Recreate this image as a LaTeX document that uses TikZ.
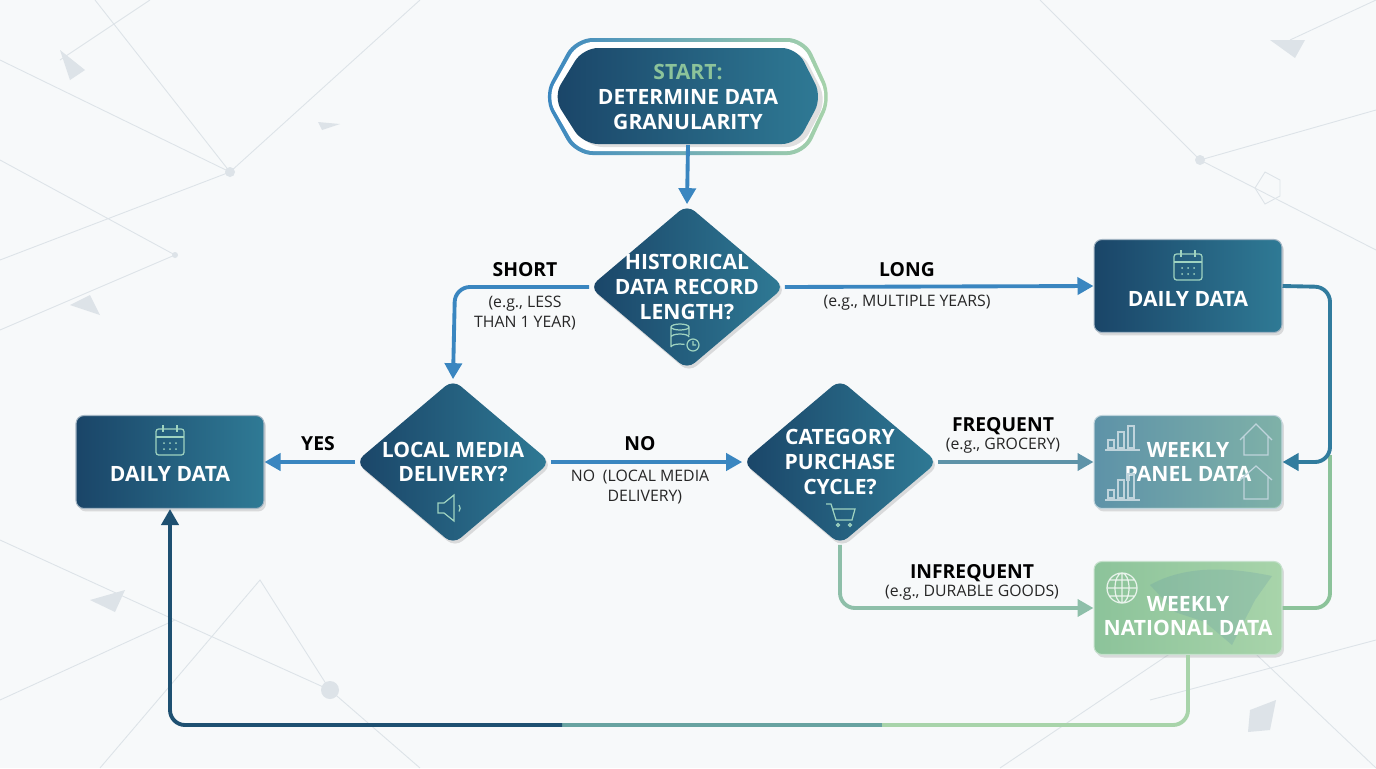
\documentclass[tikz,border=0pt]{standalone}
\usepackage{fontspec}
\setmainfont{Open Sans}
\usetikzlibrary{shapes.geometric,arrows.meta,shadows}
\definecolor{navy}{HTML}{1A4568}
\definecolor{teal}{HTML}{2F7A95}
\definecolor{arr}{HTML}{3A86C0}
\definecolor{lgreen}{HTML}{A8D4AA}
\definecolor{mgreen}{HTML}{8CC39A}
\definecolor{pblue}{HTML}{5E93A8}
\definecolor{pgreen}{HTML}{8EBFA9}
\definecolor{bgl}{HTML}{DDE3E8}
\definecolor{bg}{HTML}{F7F9FA}
\definecolor{icon}{HTML}{9FD3C0}
\begin{document}
\begin{tikzpicture}[x=0.02cm,y=-0.02cm,
  box/.style={rectangle,rounded corners=0.16cm,minimum width=3.76cm,minimum height=1.86cm,draw=white!60!navy,line width=0.6pt,drop shadow={opacity=0.25,shadow xshift=0.04cm,shadow yshift=-0.06cm}},
  dia/.style={diamond,rounded corners=0.2cm,minimum width=3.9cm,minimum height=3.3cm,inner sep=0pt,left color=navy,right color=teal,drop shadow={opacity=0.25,shadow xshift=0.04cm,shadow yshift=-0.06cm}},
  wt/.style={text=white,font=\bfseries\fontsize{12}{14}\selectfont,align=center},
  lab/.style={font=\bfseries\fontsize{11}{13}\selectfont,text=black},
  sm/.style={font=\fontsize{9}{11}\selectfont,text=black!85,align=center},
  con/.style={line width=2.2pt,rounded corners=0.3cm},
  tip/.style={-{Triangle[length=0.32cm,width=0.34cm]}},
  ic/.style={draw=icon,line width=0.7pt}]
\useasboundingbox (0,0) rectangle (1376,768);
\fill[bg] (0,0) rectangle (1376,768);
% background net
\begin{scope}[bgl,line width=0.5pt]
\draw (0,60)--(230,172)--(95,0) (230,172)--(0,260) (230,172)--(420,0) (0,160)--(175,255)--(0,330) (60,60)--(150,0);
\draw (1040,0)--(1200,160)--(1376,110) (1200,160)--(1100,60) (1200,160)--(1376,250) (1290,40)--(1376,0);
\draw (0,540)--(175,620)--(330,690)--(420,768) (100,768)--(260,580)--(330,690) (0,700)--(175,620);
\draw (1150,700)--(1376,640) (1220,620)--(1376,768) (1000,768)--(1220,620);
\fill (230,172) circle (5) (175,255) circle (3) (330,690) circle (9) (1200,160) circle (5);
\fill (60,50)--(85,70)--(70,80)--cycle (1270,40)--(1305,40)--(1295,58)--cycle (90,295)--(100,315)--(70,305)--cycle (1250,710)--(1276,700)--(1270,730)--(1248,732)--cycle (90,600)--(125,590)--(115,612)--cycle (318,122)--(340,124)--(322,130)--cycle;
\draw (1265,172)--(1280,180)--(1280,196)--(1265,204)--(1255,188)--cycle;
\end{scope}
% start
\node[minimum width=5.8cm,minimum height=1.9cm] (start) at (688,97) {};
\shade[rounded corners=0.35cm,left color=arr,right color=lgreen] (543,97)--(575,38)--(805,38)--(832,97)--(805,155)--(575,155)--cycle;
\fill[white,rounded corners=0.3cm] (547,97)--(578,42)--(802,42)--(828,97)--(802,151)--(578,151)--cycle;
\shade[left color=navy,right color=teal,rounded corners=0.3cm,drop shadow={opacity=0.25,shadow yshift=-0.06cm}] (553,97)--(583,48)--(797,48)--(822,97)--(797,144)--(583,144)--cycle;
\node[wt] at (688,97) {\textcolor{mgreen}{START:}\\DETERMINE DATA\\GRANULARITY};
% diamonds
\node[dia] (d1) at (687,287) {};
\node[wt] at (687,287) {HISTORICAL\\DATA RECORD\\LENGTH?};
\node[dia] (d2) at (453,462) {};
\node[wt] at (453,462) {LOCAL MEDIA\\DELIVERY?};
\node[dia] (d3) at (840,462) {};
\node[wt] at (840,462) {CATEGORY\\PURCHASE\\CYCLE?};
% icons in diamonds
\draw[ic] (680,327) ellipse (9 and 3) (671,327)--(671,347) (689,327)--(689,335) (671,337) arc (180:360:9 and 3) (671,347) arc(180:300:9 and 3);
\draw[ic] (693,345) circle (6) (693,341)--(693,345)--(696,345);
\draw[ic] (438,503)--(438,513)--(444,513)--(454,521)--(454,495)--(444,503)--cycle (459,505) arc(-40:40:5);
\draw[ic] (826,504)--(831,504)--(836,520)--(852,520)--(855,509)--(833,509) (838,525) circle(1.5) (850,525) circle (1.5);
% boxes
\node[box,left color=navy,right color=teal] (dr) at (1188,286) {};
\node[wt] at (1188,299) {DAILY DATA};
\node[box,left color=navy,right color=teal] (dl) at (170,462) {};
\node[wt] at (170,474) {DAILY DATA};
\node[box,left color=pblue,right color=pgreen,draw=white!60!pblue] (panel) at (1188,462) {};
\fill[pblue,opacity=0.3,rounded corners=0.15cm] (1095,416) rectangle (1281,507);
\node[box,left color=mgreen,right color=lgreen,draw=white!50!mgreen] (nat) at (1188,608) {};
% map silhouette
\fill[pblue,opacity=0.22] (1150,585) .. controls (1180,568) and (1220,565) .. (1272,576) -- (1255,600) -- (1232,645) -- (1205,622) -- (1175,612) -- cycle;
\node[wt] at (1188,462) {WEEKLY\\PANEL DATA};
\node[wt] at (1188,616) {WEEKLY\\NATIONAL DATA};
% calendar icons
\foreach \cx/\cy in {1188/266,170/441}{
 \draw[ic,rounded corners=1.5] (\cx-14,\cy-12) rectangle (\cx+14,\cy+14);
 \draw[ic] (\cx-14,\cy-4)--(\cx+14,\cy-4) (\cx-7,\cy-16)--(\cx-7,\cy-9) (\cx+7,\cy-16)--(\cx+7,\cy-9);
 \foreach \i in {-6,0,6}{\fill[icon] (\cx+\i,\cy+2) circle (1) (\cx+\i,\cy+8) circle (1);}}
% panel icons
\begin{scope}[draw=white!60!pblue,line width=0.7pt]
\draw (1105,450)--(1140,450) (1108,448) rectangle (1114,440) (1118,448) rectangle (1124,432) (1128,448) rectangle (1134,426);
\draw (1105,500)--(1140,500) (1108,498) rectangle (1114,490) (1118,498) rectangle (1124,480) (1128,498) rectangle (1134,474);
\draw (1240,440)--(1256,424)--(1272,440) (1244,436)--(1244,455)--(1268,455)--(1268,436);
\draw (1240,480)--(1256,466)--(1272,480) (1244,476)--(1244,499)--(1268,499)--(1268,476);
\end{scope}
\draw[white!80!mgreen,line width=0.7pt] (1122,588) circle (15) (1107,588)--(1137,588) (1122,573)--(1122,603) (1122,588) ellipse (7 and 15) (1109,580)--(1135,580) (1109,596)--(1135,596);
% connectors
\draw[con,tip,arr] (start.south) -- (d1.north);
\draw[con,tip,arr] (d1.west) -- (455,287) -- (d2.north);
\draw[con,tip,arr] (d1.east) -- (dr.west);
\draw[con,tip,arr] (d2.west) -- (dl.east);
\draw[con,tip,arr] (d2.east) -- (d3.west);
\draw[con,tip,color=pblue] (d3.east) -- (panel.west);
\draw[con,color=mgreen] (nat.east) -- (1330,608) -- (1330,455);
\draw[con,tip,color=teal!80!arr] (dr.east) -- (1330,287) -- (1330,462) -- (panel.east);
\draw[con,tip,color=pgreen] (d3.south) -- (840,608) -- (nat.west);
\draw[con,color=lgreen] (nat.south) -- (1188,725) -- (880,725);
\draw[con,color=pgreen!60!teal] (882,725) -- (560,725);
\draw[con,tip,color=navy!80!teal] (562,725) -- (170,725) -- (dl.south);
% labels
\node[lab] at (525,270) {SHORT};
\node[sm] at (525,313) {(e.g., LESS\\THAN 1 YEAR)};
\node[lab] at (907,270) {LONG};
\node[sm] at (907,303) {(e.g., MULTIPLE YEARS)};
\node[lab] at (318,444) {YES};
\node[lab] at (640,444) {NO};
\node[sm,align=left] at (640,487) {NO\enspace(LOCAL MEDIA\\\hphantom{NO\enspace(}DELIVERY)};
\node[lab] at (1003,426) {FREQUENT};
\node[sm] at (1003,446) {(e.g., GROCERY)};
\node[lab] at (972,573) {INFREQUENT};
\node[sm] at (972,593) {(e.g., DURABLE GOODS)};
\end{tikzpicture}
\end{document}
